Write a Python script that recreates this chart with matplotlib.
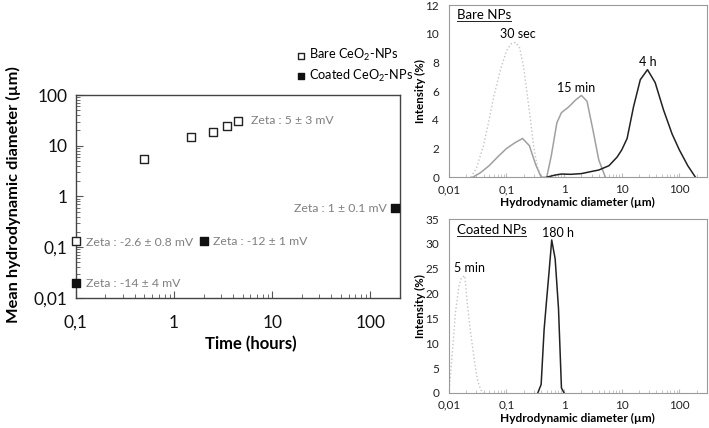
import numpy as np
import matplotlib.pyplot as plt
from matplotlib.ticker import FixedLocator, FixedFormatter, LogLocator, NullFormatter

plt.rcParams['font.family'] = ['Lato', 'DejaVu Sans']
plt.rcParams['mathtext.fontset'] = 'custom'
plt.rcParams['mathtext.rm'] = 'Lato'

# left panel: mean diameter vs time
bare_t = [0.1, 0.5, 1.5, 2.5, 3.5, 4.5]
bare_d = [0.13, 5.5, 15, 19, 24, 31]
coat_t = [0.1, 2, 180]
coat_d = [0.02, 0.13, 0.6]
time_ticks = [0.1, 1, 10, 100]
time_labels = ['0,1', '1', '10', '100']
diam_ticks = [0.01, 0.1, 1, 10, 100]
diam_labels = ['0,01', '0,1', '1', '10', '100']

# top right: bare NPs size distributions
d30s = [0.024, 0.03, 0.04, 0.05, 0.06, 0.08, 0.1, 0.12, 0.145, 0.17, 0.2, 0.25, 0.3, 0.35, 0.41]
i30s = [0, 0.6, 2.2, 4.0, 5.6, 7.6, 8.8, 9.3, 9.4, 9.0, 7.6, 4.6, 2.0, 0.6, 0]
d15m = [0.026, 0.035, 0.05, 0.07, 0.1, 0.14, 0.19, 0.25, 0.32, 0.4, 0.5, 0.6, 0.75, 0.9, 1.2, 1.6, 2.0, 2.5, 3.2, 4.0, 5.2]
i15m = [0, 0.3, 0.8, 1.4, 2.0, 2.4, 2.7, 2.2, 0.9, 0, 0, 1.5, 3.8, 4.5, 4.9, 5.4, 5.7, 5.3, 3.2, 1.2, 0]
d4h = [0.5, 0.7, 0.9, 1.3, 2, 3, 4, 6, 8.3, 10, 12.4, 16, 21, 28, 38, 53, 75, 100, 140, 190]
i4h = [0, 0.15, 0.22, 0.2, 0.25, 0.4, 0.5, 0.8, 1.4, 1.9, 2.7, 4.9, 6.8, 7.5, 6.6, 4.7, 3.0, 1.9, 0.8, 0]

# bottom right: coated NPs size distributions
d5m = [0.0101, 0.0115, 0.013, 0.015, 0.0165, 0.019, 0.021, 0.024, 0.026, 0.029, 0.032, 0.036, 0.04]
i5m = [0, 8, 16, 21.5, 23.2, 23.6, 17.7, 12, 9, 5, 2.3, 0.6, 0]
d180h = [0.35, 0.4, 0.45, 0.5, 0.55, 0.61, 0.7, 0.8, 0.9, 1.0]
i180h = [0, 1.7, 12.7, 19, 24.5, 30.8, 27, 17, 1, 0]
dist_ticks = [0.01, 0.1, 1, 10, 100]
dist_labels = ['0,01', '0,1', '1', '10', '100']

fig = plt.figure(figsize=(7.09, 4.28), dpi=100)

# ---- left panel
ax = fig.add_axes([0.107, 0.304, 0.457, 0.474])
ax.scatter(bare_t, bare_d, marker='s', s=36, facecolors='white', edgecolors='#222222',
           linewidths=1.0, zorder=3, clip_on=False, label='Bare CeO$_2$-NPs')
ax.scatter(coat_t, coat_d, marker='s', s=36, facecolors='#111111', edgecolors='#111111',
           linewidths=1.0, zorder=3, clip_on=False, label='Coated CeO$_2$-NPs')
ax.set_xscale('log')
ax.set_yscale('log')
ax.set_xlim(0.1, 200)
ax.set_ylim(0.01, 100)
ax.xaxis.set_major_locator(FixedLocator(time_ticks))
ax.xaxis.set_major_formatter(FixedFormatter(time_labels))
ax.yaxis.set_major_locator(FixedLocator(diam_ticks))
ax.yaxis.set_major_formatter(FixedFormatter(diam_labels))
ax.xaxis.set_minor_locator(LogLocator(base=10, subs=np.arange(2, 10)))
ax.yaxis.set_minor_locator(LogLocator(base=10, subs=np.arange(2, 10)))
ax.xaxis.set_minor_formatter(NullFormatter())
ax.yaxis.set_minor_formatter(NullFormatter())
ax.tick_params(which='both', direction='in', color='#555555', labelsize=12.5, labelcolor='#111111')
ax.tick_params(which='major', length=5)
ax.tick_params(which='minor', length=3)
ax.tick_params(axis='x', pad=12)
ax.tick_params(axis='y', pad=6)
for s in ax.spines.values():
    s.set_color('#444444')
    s.set_linewidth(1.0)
ax.set_xlabel('Time (hours)', fontsize=12, fontweight='bold')
ax.xaxis.set_label_coords(0.54, -0.19)
ax.set_ylabel('Mean hydrodynamic diameter (µm)', fontsize=11.8, fontweight='bold')
ax.yaxis.set_label_coords(-0.17, 0.51)

zc = '#808080'
zf = 8.8
ax.text(6.1, 32, 'Zeta : 5 ± 3 mV', color=zc, fontsize=zf, va='center')
ax.text(0.126, 0.126, 'Zeta : -2.6 ± 0.8 mV', color=zc, fontsize=zf, va='center')
ax.text(0.126, 0.0195, 'Zeta : -14 ± 4 mV', color=zc, fontsize=zf, va='center')
ax.text(2.5, 0.13, 'Zeta : -12 ± 1 mV', color=zc, fontsize=zf, va='center')
ax.text(146, 0.59, 'Zeta : 1 ± 0.1 mV', color=zc, fontsize=zf, va='center', ha='right')

fig.legend(handles=ax.collections, labels=['Bare CeO$_2$-NPs', 'Coated CeO$_2$-NPs'],
           loc='upper left', bbox_to_anchor=(0.41, 0.905), frameon=False,
           fontsize=9.2, handlelength=0.6, handletextpad=0.3, labelspacing=0.35,
           borderpad=0, markerscale=0.8)


def dist_axes(rect, ymax, ystep):
    a = fig.add_axes(rect)
    a.set_xscale('log')
    a.set_xlim(0.01, 300)
    a.set_ylim(0, ymax)
    a.xaxis.set_major_locator(FixedLocator(dist_ticks))
    a.xaxis.set_major_formatter(FixedFormatter(dist_labels))
    a.xaxis.set_minor_locator(LogLocator(base=10, subs=np.arange(2, 10)))
    a.xaxis.set_minor_formatter(NullFormatter())
    a.set_yticks(np.arange(0, ymax + 0.1, ystep))
    a.tick_params(which='both', direction='in', color='#bbbbbb', labelsize=8.5, labelcolor='#222222')
    a.tick_params(axis='y', length=0, pad=7)
    a.tick_params(axis='x', which='major', length=3, pad=5)
    a.tick_params(axis='x', which='minor', length=2)
    for s in a.spines.values():
        s.set_color('#9a9a9a')
        s.set_linewidth(0.8)
    a.set_xlabel('Hydrodynamic diameter (µm)', fontsize=8.6, fontweight='bold')
    a.xaxis.set_label_coords(0.5, -0.115)
    a.set_ylabel('Intensity (%)', fontsize=8.3, fontweight='bold')
    a.yaxis.set_label_coords(-0.09, 0.5)
    return a


def underlined(a, x, y, s):
    t = a.text(x, y, s, fontsize=9.5, transform=a.transAxes, va='center')
    fig.canvas.draw()
    bb = t.get_window_extent().transformed(fig.transFigure.inverted())
    fig.add_artist(plt.Line2D([bb.x0, bb.x1], [bb.y0, bb.y0], transform=fig.transFigure,
                              color='#222222', lw=0.7))


# ---- top right
a1 = dist_axes([0.633, 0.586, 0.364, 0.402], 12, 2)
a1.plot(d30s, i30s, color='#c4c4c4', lw=1.0, ls=':')
a1.plot(d15m, i15m, color='#a0a0a0', lw=1.1)
a1.plot(d4h, i4h, color='#222222', lw=1.1)
a1.text(0.16, 10.0, '30 sec', fontsize=9, ha='center', va='center')
a1.text(1.6, 6.25, '15 min', fontsize=9, ha='center', va='center')
a1.text(28, 8.0, '4 h', fontsize=9, ha='center', va='center')
underlined(a1, 0.03, 0.945, 'Bare NPs')

# ---- bottom right
a2 = dist_axes([0.633, 0.082, 0.364, 0.406], 35, 5)
a2.plot(d5m, i5m, color='#c4c4c4', lw=1.0, ls=':')
a2.plot(d180h, i180h, color='#222222', lw=1.1)
a2.text(0.023, 25.1, '5 min', fontsize=9, ha='center', va='center')
a2.text(0.8, 32.3, '180 h', fontsize=9, ha='center', va='center')
underlined(a2, 0.03, 0.94, 'Coated NPs')

fig.savefig('out.png', dpi=100)
